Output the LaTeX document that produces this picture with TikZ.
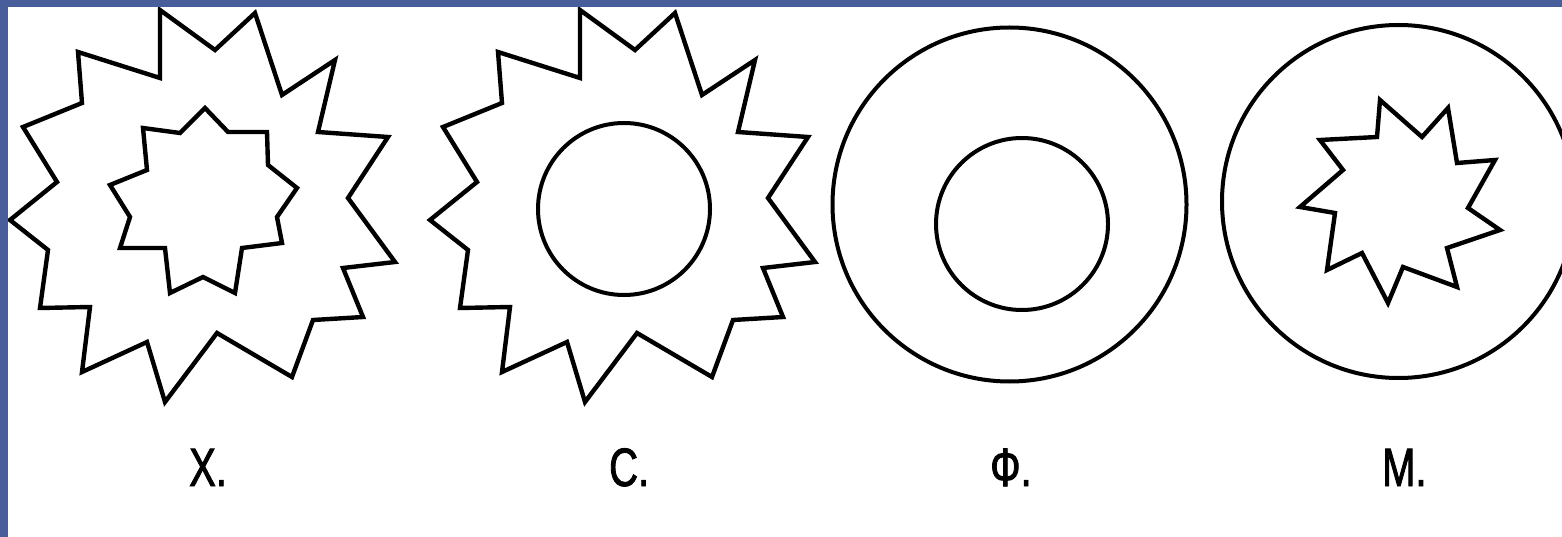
\documentclass[tikz,border=0pt]{standalone}
\usepackage{fontspec}
\newfontfamily\labfont[FakeStretch=0.74,FakeBold=1.6]{Liberation Sans}
\definecolor{frameblue}{RGB}{72,94,155}
\begin{document}
\begin{tikzpicture}[x=1pt,y=-1pt,
  outline/.style={draw=black,line width=4.4pt,line join=miter},
  ring/.style={draw=black,line width=4pt},
  lab/.style={inner sep=0pt,anchor=base west,font=\labfont\fontsize{54}{60}\selectfont}]
\useasboundingbox (0,0) rectangle (1562,537);
\fill[white] (0,0) rectangle (1562,537);
\begin{scope}
\clip (0,0) rectangle (1562,537);
% big star (shape X)
\def\bigstar{(160,10) -- (215,50) -- (255,13) -- (282,95) -- (335,60) -- (318,132) -- (388,137) -- (348,198) -- (395,262) -- (343,268) -- (363,317) -- (313,320) -- (292,377) -- (217,333) -- (165,402) -- (147,342) -- (82,372) -- (90,307) -- (40,308) -- (48,250) -- (10,220) -- (57,182) -- (23,127) -- (82,103) -- (78,52) -- (160,78) -- cycle}
\draw[outline] \bigstar;
% inner 9-point star (shape X)
\draw[outline] (205,108) -- (228,132) -- (267,132) -- (268,165) -- (297,188) -- (277,217) -- (282,243) -- (242,248) -- (235,293) -- (203,277) -- (170,293) -- (165,248) -- (120,248) -- (130,217) -- (110,185) -- (147,170) -- (143,128) -- (180,133) -- cycle;
% shape C
\begin{scope}[xshift=420pt]
\draw[outline] \bigstar;
\end{scope}
\draw[ring] (624,209) circle[radius=86];
% shape F
\draw[ring] (1009.5,204.5) circle[radius=177];
\draw[ring] (1022,224) circle[radius=86];
% shape M
\draw[ring] (1398.5,201.5) circle[radius=176.5];
\draw[outline] (1380,100) -- (1422,137) -- (1448,108) -- (1457,163) -- (1495,160) -- (1468,208) -- (1500,230) -- (1447,248) -- (1457,287) -- (1403,267) -- (1388,303) -- (1362,253) -- (1327,270) -- (1335,213) -- (1300,207) -- (1343,170) -- (1320,140) -- (1377,137) -- cycle;
\end{scope}
% labels
\node[lab] (lx) at (189,486) {Х.};
\node[lab] (lc) at (609,486) {С.};
\node[lab] (lf) at (990,486) {Ф.};
\node[lab] (lm) at (1382,486) {М.};
% frame
\fill[frameblue] (0,0) rectangle (1562,7.5);
\fill[frameblue] (0,0) rectangle (7.5,537);
\end{tikzpicture}
\end{document}
